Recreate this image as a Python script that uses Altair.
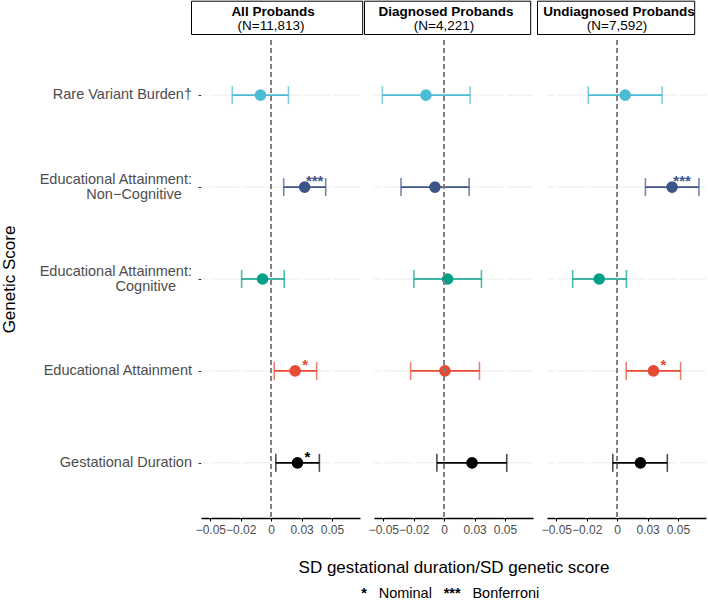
import altair as alt
import pandas as pd

panels = ["All Probands", "Diagnosed Probands", "Undiagnosed Probands"]
panel_n = ["(N=11,813)", "(N=4,221)", "(N=7,592)"]
PAD1 = "\u2002\u2009\u200b"
PAD2 = "\u2002\u2009\u2009\u2009\u200b"
scores = [
    "Rare Variant Burden\u2020",
    "Educational Attainment:|Non\u2212Cognitive" + PAD1,
    "Educational Attainment:|Cognitive" + PAD2,
    "Educational Attainment",
    "Gestational Duration",
]
score_colors = ["#4DBBD5", "#3C5488", "#00A087", "#E64B35", "#000000"]

# estimates, lower and upper CI per panel (rows in `scores` order)
all_est = [-0.0088, 0.0275, -0.0071, 0.0197, 0.0216]
all_lo = [-0.0320, 0.0103, -0.0243, 0.0025, 0.0038]
all_hi = [0.0142, 0.0448, 0.0107, 0.0374, 0.0396]
all_sig = ["", "***", "", "*", "*"]

diag_est = [-0.0150, -0.0076, 0.0028, 0.0006, 0.0229]
diag_lo = [-0.0508, -0.0355, -0.0249, -0.0276, -0.0060]
diag_hi = [0.0213, 0.0205, 0.0306, 0.0290, 0.0514]
diag_sig = ["", "", "", "", ""]

undiag_est = [0.0066, 0.0451, -0.0148, 0.0298, 0.0191]
undiag_lo = [-0.0238, 0.0232, -0.0366, 0.0074, -0.0036]
undiag_hi = [0.0369, 0.0672, 0.0076, 0.0521, 0.0412]
undiag_sig = ["", "***", "", "*", ""]

tick_values = [-0.05, -0.025, 0, 0.025, 0.05]
tick_labels = ["\u22120.05", "\u22120.02", "0", "0.03", "0.05"]
x_domain = [-0.0577, 0.073]

x_title = "SD gestational duration/SD genetic score"
y_title = "Genetic Score"
legend_items = ["*", "Nominal", "***", "Bonferroni"]

series = [
    (all_est, all_lo, all_hi, all_sig),
    (diag_est, diag_lo, diag_hi, diag_sig),
    (undiag_est, undiag_lo, undiag_hi, undiag_sig),
]

rows = []
for p, (e, lo, hi, sig) in zip(panels, series):
    for s, ev, lv, hv, sv in zip(scores, e, lo, hi, sig):
        rows.append({"panel": p, "score": s, "est": ev, "lo": lv, "hi": hv, "sig": sv})
df = pd.DataFrame(rows)

ylab = pd.DataFrame({
    "score": scores,
    "line1": [s.split("|")[0] for s in scores],
    "line2": [s.split("|")[1] if "|" in s else "" for s in scores],
})

label_expr = "''"
for v, l in reversed(list(zip(tick_values, tick_labels))):
    label_expr = f"abs(datum.value - ({v})) < 1e-6 ? '{l}' : ({label_expr})"

W = 159
H = 478
FONT = "Liberation Sans"

yscale = alt.Scale(domain=scores, type="point", padding=0.6)
cscale = alt.Scale(domain=scores, range=score_colors)
xscale = alt.Scale(domain=x_domain, nice=False, zero=False)

box_right = [161.7, 156.7, 147.7]


def make_panel(i):
    d = df[df.panel == panels[i]]
    xaxis_kwargs = dict(
        values=tick_values, labelExpr=label_expr, grid=False, labelOverlap=False,
        domainColor="black", domainWidth=1.5, tickColor="black", tickSize=3,
        tickWidth=1, labelColor="#4d4d4d", labelFontSize=12, labelPadding=3,
        labelFont=FONT,
    )
    if i == 1:
        xaxis_kwargs.update(title=x_title, titleFontSize=17, titleFontWeight="normal",
                            titleColor="black", titlePadding=24, titleFont=FONT)
    else:
        xaxis_kwargs.update(title=None)
    xaxis = alt.Axis(**xaxis_kwargs)

    if i == 0:
        yaxis = alt.Axis(
            title=y_title, labels=False, grid=False,
            domain=False, tickColor="#333333", tickSize=3,
            titleFontSize=17, titleFontWeight="normal", titleColor="black",
            titlePadding=179, titleFont=FONT,
        )
    else:
        yaxis = None

    def X(field):
        return alt.X(field, scale=xscale, axis=xaxis)

    Y = alt.Y("score:N", scale=yscale, axis=yaxis)
    C = alt.Color("score:N", scale=cscale, legend=None)

    base = alt.Chart(d)
    hgrid = base.mark_rule(color="#ebebeb", strokeWidth=1).encode(y=Y)
    vgrid = alt.Chart(pd.DataFrame({"t": tick_values})).mark_rule(
        color="white", strokeWidth=2.5
    ).encode(x=X("t:Q"))
    bars = base.mark_rule(strokeWidth=1.6).encode(x=X("lo:Q"), x2="hi:Q", y=Y, color=C)
    cap_lo = base.mark_tick(thickness=1.6, size=18, orient="vertical").encode(
        x=X("lo:Q"), y=Y, color=C)
    cap_hi = base.mark_tick(thickness=1.6, size=18, orient="vertical").encode(
        x=X("hi:Q"), y=Y, color=C)
    pts = base.mark_circle(size=135, opacity=1).encode(x=X("est:Q"), y=Y, color=C)
    zero = base.mark_rule(color="#7f7f7f", strokeWidth=1.3, strokeDash=[5, 3]).encode(
        x=alt.datum(0, scale=xscale, axis=xaxis)
    )
    stars = base.mark_text(
        dx=10, dy=-1, align="center", baseline="alphabetic", fontSize=15,
        fontWeight="bold", font=FONT,
    ).encode(x=X("est:Q"), y=Y, text="sig:N", color=C)
    hdr = pd.DataFrame({"panel": [panels[i]], "n": [panel_n[i]]})
    box = alt.Chart(hdr).mark_rect(fill="white", stroke="black", strokeWidth=1).encode(
        x=alt.value(-9.5), x2=alt.value(box_right[i]), y=alt.value(-38.8), y2=alt.value(-5.5)
    )
    t1 = alt.Chart(hdr).mark_text(
        fontSize=13.5, fontWeight="bold", font=FONT, align="center", baseline="alphabetic",
        color="black",
    ).encode(text="panel:N", x=alt.value(72), y=alt.value(-24))
    t2 = alt.Chart(hdr).mark_text(
        fontSize=13.5, font=FONT, align="center", baseline="alphabetic", color="black",
    ).encode(text="n:N", x=alt.value(70), y=alt.value(-10.5))

    layers = [hgrid, vgrid, bars, cap_lo, cap_hi, pts, zero, stars, box, t1, t2]

    if i == 0:
        lab_kw = dict(fontSize=14.5, font=FONT, align="right", baseline="middle",
                      color="#4d4d4d")
        single = ylab[ylab.line2 == ""]
        double = ylab[ylab.line2 != ""]
        layers.append(alt.Chart(single).mark_text(**lab_kw).encode(
            text="line1:N", y=Y, x=alt.value(-9)))
        layers.append(alt.Chart(double).mark_text(dy=-7.5, **lab_kw).encode(
            text="line1:N", y=Y, x=alt.value(-9)))
        layers.append(alt.Chart(double).mark_text(dy=7.5, **lab_kw).encode(
            text="line2:N", y=Y, x=alt.value(-9)))

    if i == 1:
        leg = pd.DataFrame({"item": legend_items, "k": [0, 1, 2, 3]})
        leg_x = [-10, 4.7, 69.7, 98.4]
        leg_align = ["center", "left", "left", "left"]
        for j, item in enumerate(legend_items):
            layers.append(
                alt.Chart(leg[leg.k == j]).mark_text(
                    fontSize=14.5, font=FONT, align=leg_align[j], baseline="middle",
                    color="black", fontWeight="bold" if "*" in item else "normal",
                ).encode(text="item:N", x=alt.value(leg_x[j]), y=alt.value(H + 76))
            )
    return alt.layer(*layers).properties(width=W, height=H)


chart = alt.hconcat(
    *[make_panel(i) for i in range(3)], spacing=14, bounds="flush"
).configure_view(stroke=None).properties(padding=0, background="white")

chart.save("out.html", embed_options={"renderer": "svg", "actions": False})
